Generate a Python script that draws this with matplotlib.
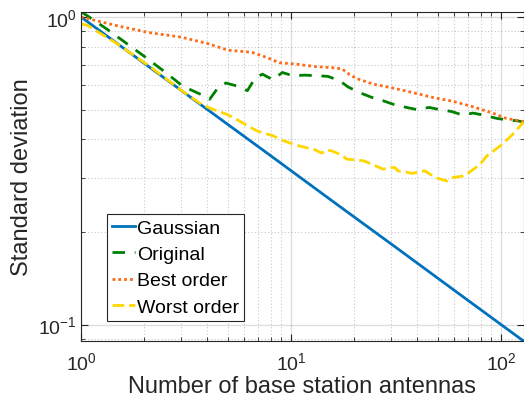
import matplotlib
matplotlib.use("Agg")
import matplotlib.pyplot as plt
from matplotlib.ticker import LogLocator, NullFormatter

# ---- data ----
gauss_M = [1, 2, 4, 8, 16, 32, 64, 128]
gauss = [1.0, 0.707, 0.5, 0.354, 0.25, 0.177, 0.125, 0.0884]

orig_M = [1, 1.07, 1.32, 1.63, 2.0, 2.5, 3.06, 3.9, 4.1, 4.5, 4.9, 5.5, 6.2, 6.7,
          7.3, 8.2, 9.1, 10.2, 11.6, 13.4, 15, 17.1, 18.7, 21.6, 24.2, 27.5, 30.7,
          35.5, 39.7, 45.5, 50.9, 58, 65.7, 73.7, 82, 95.6, 106.7, 118, 128]
orig = [1.04, 1.01, 0.916, 0.825, 0.745, 0.664, 0.595, 0.552, 0.54, 0.59, 0.61,
        0.597, 0.576, 0.628, 0.652, 0.625, 0.66, 0.644, 0.647, 0.644, 0.641, 0.62,
        0.592, 0.565, 0.548, 0.534, 0.52, 0.508, 0.50, 0.508, 0.50, 0.493, 0.48,
        0.487, 0.48, 0.468, 0.463, 0.46, 0.456]

best_M = [1, 1.5, 2.1, 3.0, 4.0, 5.0, 6.5, 7.6, 8.8, 10.5, 13, 15.8, 17.5, 19,
          20.5, 24.6, 30.7, 38, 47.6, 59, 74, 92, 106, 128]
best = [1.0, 0.935, 0.89, 0.86, 0.82, 0.78, 0.768, 0.74, 0.71, 0.703, 0.69, 0.684,
        0.678, 0.65, 0.631, 0.605, 0.587, 0.568, 0.547, 0.532, 0.51, 0.486, 0.468,
        0.457]

worst_M = [1, 1.07, 1.48, 2.13, 3.0, 3.75, 4.27, 4.94, 5.41, 6.2, 6.9, 7.7, 8.2,
           9.2, 10.6, 11.8, 12.8, 14, 14.8, 15.8, 17.5, 18.4, 22, 23.3, 27.5, 29.5,
           31.2, 32.3, 34.9, 37.5, 43.4, 46, 49.5, 51.4, 55.3, 58, 66, 68.6, 79.6,
           85.5, 101.7, 114, 128]
worst = [0.95, 0.94, 0.82, 0.69, 0.578, 0.52, 0.50, 0.483, 0.468, 0.443, 0.426,
         0.416, 0.411, 0.396, 0.383, 0.376, 0.372, 0.361, 0.37, 0.366, 0.355, 0.345,
         0.341, 0.336, 0.32, 0.324, 0.324, 0.316, 0.314, 0.31, 0.316, 0.308, 0.30,
         0.297, 0.293, 0.30, 0.304, 0.308, 0.332, 0.353, 0.386, 0.416, 0.455]

labels = ["Gaussian", "Original", "Best order", "Worst order"]
x_label = "Number of base station antennas"
y_label = "Standard deviation"

# ---- styling ----
plt.rcParams['font.family'] = ['Liberation Sans', 'DejaVu Sans']
plt.rcParams['mathtext.fontset'] = 'custom'
plt.rcParams['mathtext.rm'] = 'Liberation Sans'
plt.rcParams['mathtext.it'] = 'Liberation Sans'
dark = (0.15, 0.15, 0.15)

fig = plt.figure(figsize=(5.24, 4.10), dpi=100)
ax = fig.add_axes([81/524, 1-342/410, 442.5/524, 329/410])

lw = 2.0
ax.plot(gauss_M, gauss, color='#0072BD', lw=lw, label=labels[0])
ax.plot(orig_M, orig, color='#008000', lw=lw, dashes=(4.5, 3.5), label=labels[1])
ax.plot(best_M, best, color='#FF6A14', lw=lw, dashes=(1, 1.1), label=labels[2])
ax.plot(worst_M, worst, color='#FFD700', lw=lw, dashes=(4.2, 1.8), label=labels[3])

ax.set_xscale('log')
ax.set_yscale('log')
ax.set_xlim(1, 128)
ax.set_ylim(0.0884, 1.038)

ax.xaxis.set_major_locator(LogLocator(base=10, numticks=10))
ax.xaxis.set_minor_locator(LogLocator(base=10, subs=range(2, 10), numticks=20))
ax.yaxis.set_major_locator(LogLocator(base=10, numticks=10))
ax.yaxis.set_minor_locator(LogLocator(base=10, subs=range(2, 10), numticks=20))
ax.xaxis.set_minor_formatter(NullFormatter())
ax.yaxis.set_minor_formatter(NullFormatter())

ax.grid(True, which='major', color=dark, alpha=0.15, lw=1.0, ls='-')
ax.grid(True, which='minor', color=dark, alpha=0.25, lw=0.8, ls=(0, (1, 2)))

ax.tick_params(which='both', direction='in', top=True, right=True, colors=dark,
               labelsize=14)
ax.tick_params(which='major', length=5, width=0.8)
ax.tick_params(which='minor', length=3, width=0.6)
ax.tick_params(axis='x', pad=7)
ax.tick_params(axis='y', pad=3)
for s in ax.spines.values():
    s.set_color(dark)
    s.set_linewidth(0.8)

ax.set_xlabel(x_label, fontsize=17, color=dark, labelpad=2)
ax.set_ylabel(y_label, fontsize=17, color=dark, labelpad=4)

leg = ax.legend(loc='lower left', bbox_to_anchor=(0.0594, 0.0617), fontsize=14,
                frameon=True, fancybox=False, borderaxespad=0, borderpad=0.25,
                handlelength=1.15, handletextpad=0.15, labelspacing=0.45)
leg.get_frame().set_edgecolor(dark)
leg.get_frame().set_linewidth(0.8)
leg.get_frame().set_alpha(1)

fig.savefig('out.png', dpi=100)
